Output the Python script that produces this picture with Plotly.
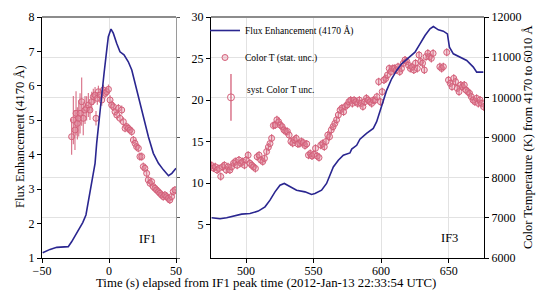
import plotly.graph_objects as go

# ---------------- data ----------------
# IF1 flux enhancement (4170 A)
time_if1_flux = [-49.5, -44, -39, -30.4, -27.9, -24, -19.6, -17.2, -14.7, -12.2,
                 -10.4, -9.2, -7.2, -5.5, -3.7, -1.7, -0.5, 1.5, 3.2, 5.7,
                 8.2, 11.2, 14.4, 17, 19.4, 22.6, 25.6, 29.4, 33.1, 36.9,
                 40.6, 44.4, 46.9, 50]
flux_if1 = [1.15, 1.25, 1.31, 1.33, 1.47, 1.72, 2.03, 2.25, 2.78, 3.36,
            3.75, 4.33, 5.0, 5.59, 6.36, 7.04, 7.43, 7.65, 7.53, 7.24,
            6.99, 6.90, 6.70, 6.46, 6.07, 5.59, 5.10, 4.52, 4.04, 3.75,
            3.56, 3.39, 3.46, 3.61]

# IF1 color temperature (K)
time_if1_T = [-27.9, -26.6, -25.4, -24.6, -23.6, -22.6, -21.6, -20.4, -19.2, -17.9,
              -16.7, -15.4, -14.2, -12.9, -11.7, -10.4, -9.7, -8.7, -7.9, -6.7,
              -5.4, -4.2, -2.9, -1.7, -0.4, 0.8, 2.0, 3.3, 4.5, 5.8,
              7.0, 8.2, 9.5, 10.7, 12.0, 13.2, 14.4, 15.7, 16.9, 18.2,
              19.4, 20.6, 21.9, 23.1, 24.4, 25.6, 26.8, 28.1, 29.3, 30.6,
              31.8, 33.0, 34.3, 35.5, 36.8, 38.0, 39.2, 40.5, 41.7, 43.0,
              44.2, 45.4, 46.7, 47.9, 49.2]
temp_if1 = [9020, 9435, 9187, 9602, 9353, 9478, 9602, 9891, 9478, 9684,
            9726, 9809, 9684, 9891, 10016, 10057, 9478, 9974, 10140, 10057,
            9933, 10182, 10099, 10140, 10199, 9933, 9809, 9767, 9643, 9560,
            9726, 9478, 9684, 9394, 9229, 9270, 9229, 9187, 9146, 8938,
            8855, 8772, 8731, 8524, 8524, 8275, 8233, 8109, 7943, 7860,
            7901, 7777, 7735, 7694, 7652, 7611, 7569, 7528, 7569, 7528,
            7486, 7445, 7528, 7652, 7694]
temp_if1_err = [450, 600, 500, 550, 400, 450, 500, 600, 420, 350,
                300, 300, 250, 250, 200, 200, 180, 160, 150, 150,
                140, 130, 130, 120, 120, 120, 110, 110, 110, 110,
                110, 110, 110, 110, 100, 100, 100, 100, 100, 100,
                100, 100, 100, 100, 100, 100, 100, 100, 100, 100,
                100, 100, 100, 100, 100, 100, 100, 100, 100, 100,
                100, 100, 100, 100, 100]

# IF3 flux enhancement
time_if3_flux = [474.5, 480.7, 485.6, 491.8, 496.7, 502.9, 509, 514, 517.7, 521.4,
                 525.1, 528.3, 532.5, 537.4, 543.6, 548.5, 551, 555.9, 559.6, 562.1,
                 564.6, 568.3, 572, 576.9, 578.2, 581.9, 584.3, 589.2, 594.2, 596.7,
                 599.2, 600.4, 604.1, 607.8, 611.5, 615.2, 620.1, 625.1, 628.8, 632.5,
                 636.2, 638.7, 642.4, 646.1, 649.1, 650.6, 653.5, 658.5, 663.4, 668.3,
                 670.8, 675.7]
flux_if3 = [5.84, 5.72, 5.84, 6.04, 6.28, 6.36, 6.64, 7.16, 7.96, 8.96,
            9.76, 9.97, 9.56, 9.16, 8.96, 8.64, 8.76, 9.16, 9.97, 10.96,
            11.96, 12.76, 13.36, 13.64, 14.1, 14.56, 15.3, 16.0, 16.6, 17.4,
            18.6, 19.2, 21.17, 22.57, 23.57, 24.37, 25.09, 25.77, 26.77, 27.77,
            28.57, 28.85, 28.45, 28.3, 27.97, 26.37, 25.57, 25.17, 24.77, 23.97,
            23.37, 23.37]

# IF3 color temperature (K)
time_if3_T = [474.5, 475.8, 477.2, 478.5, 479.9, 481.2, 482.6, 483.9, 485.3, 486.6,
              488.0, 489.3, 490.7, 492.0, 493.4, 494.7, 496.1, 497.4, 498.8, 500.1,
              501.5, 502.8, 504.2, 505.5, 506.9, 508.2, 509.6, 510.9, 512.3, 513.6,
              515.2, 516.5, 517.7, 518.9, 520.2, 521.5, 522.8, 524.1, 525.4, 526.7,
              528.0, 529.3, 530.6, 531.9, 533.2, 534.5, 535.8, 537.1, 538.4, 539.7,
              541.0, 542.3, 543.6, 544.9, 546.2, 547.5, 548.8, 550.1, 551.4, 552.7,
              554.0, 555.3, 556.6, 557.9, 559.2, 560.5, 561.8, 563.1, 564.4, 565.7,
              567.0, 568.3, 569.6, 570.9, 572.2, 573.5, 574.8, 576.1, 577.4, 578.7,
              580.0, 581.3, 582.6, 583.9, 585.2, 586.5, 587.8, 589.1, 590.4, 591.7,
              593.0, 594.3, 595.6, 596.9, 598.2, 599.5, 600.8, 602.1, 603.4, 604.7,
              606.0, 607.3, 608.6, 609.9, 611.2, 612.5, 613.8, 615.1, 616.4, 617.7,
              619.0, 620.3, 621.6, 622.9, 624.2, 625.5, 626.8, 628.1, 629.4, 630.7,
              632.0, 633.3, 634.6, 635.9, 637.2, 638.5, 643.5, 644.8, 646.1, 648.6,
              649.9, 651.2, 652.5, 653.8, 655.1, 656.4, 657.7, 659.0, 660.3, 661.6,
              662.9, 664.2, 665.5, 666.8, 668.1, 669.4, 670.7, 672.0, 673.3, 674.6,
              675.9]
temp_if3 = [8300, 8240, 8270, 8190, 8230, 8030, 8270, 8310, 8190, 8270,
            8190, 8270, 8360, 8400, 8310, 8440, 8360, 8400, 8310, 8440,
            8560, 8360, 8310, 8270, 8230, 8520, 8560, 8440, 8400, 8480,
            8650, 8760, 8850, 8980, 9300, 9310, 9440, 9390, 9310, 9270,
            9190, 9150, 9150, 9060, 8900, 8860, 8940, 8980, 8840, 8850,
            8900, 8870, 8800, 8840, 8560, 8600, 8540, 8580, 8730, 8540,
            8500, 8810, 8850, 8770, 8900, 9060, 9020, 9190, 9270, 9350,
            9440, 9560, 9680, 9730, 9640, 9770, 9810, 9890, 9930, 9850,
            9930, 9890, 9850, 9930, 9850, 9770, 9890, 9975, 9930, 9890,
            9850, 9930, 9930, 10016, 10390, 9890, 10140, 10430, 10470, 10555,
            10720, 10640, 10720, 10720, 10680, 10760, 10640, 10720, 10846, 10930,
            10890, 10800, 10720, 10760, 10680, 10850, 10720, 11053, 10890, 10850,
            10680, 11012, 11095, 11012, 10970, 11095, 10760, 10720, 10763, 11120,
            10430, 10348, 10265, 10472, 10390, 10224, 10140, 10307, 10265, 10307,
            10180, 10140, 10100, 10016, 9933, 9890, 9975, 9850, 9933, 9850,
            9767]
temp_if3_err = 100

# systematic uncertainty example point
syst_time = [488.8]
syst_temp = [10000]
syst_err = [580]

x_ticks_if1 = [-50, 0, 50]
x_ticks_if3 = [500, 550, 600, 650]
flux_ticks_if1 = [1, 2, 3, 4, 5, 6, 7, 8]
flux_ticks_if3 = [5, 10, 15, 20, 25, 30]
temp_ticks = [6000, 7000, 8000, 9000, 10000, 11000, 12000]

# ---------------- style / geometry ----------------
# the page body has an 8 px margin, so the figure is placed at (8, 8)
OFF = 8
W, H = 542, 292
FONT = "Liberation Serif"
LINE_C = "#2a2690"
PINK = "#d4607a"
PINK_FILL = "rgba(225,140,160,0.35)"
GRID = "#e2e2e2"


def px(x):
    return (x - OFF) / W


def py(y):
    return 1 - (y - OFF) / H


# panel edges in window pixels
L0, L1 = 42, 176
R0, R1 = 211, 484
TOP, BOT = 17, 258
dom_y = [py(BOT), py(TOP)]
dom_l = [px(L0), px(L1)]
dom_r = [px(R0), px(R1)]

fig = go.Figure()

# IF1 color temperature (base axis x/y)
fig.add_trace(go.Scatter(
    x=time_if1_T, y=temp_if1, mode="markers", xaxis="x", yaxis="y",
    marker=dict(symbol="circle", size=6, color=PINK_FILL, line=dict(color=PINK, width=1)),
    error_y=dict(type="data", array=temp_if1_err, color="rgba(212,96,122,0.85)", thickness=1.2, width=0),
    showlegend=False))
# IF1 flux
fig.add_trace(go.Scatter(
    x=time_if1_flux, y=flux_if1, mode="lines", xaxis="x", yaxis="y2",
    line=dict(color=LINE_C, width=1.6), showlegend=False))

# IF3 color temperature
fig.add_trace(go.Scatter(
    x=time_if3_T, y=temp_if3, mode="markers", xaxis="x2", yaxis="y3",
    name="Color T (stat. unc.)", legendgroup="b", legendrank=2,
    marker=dict(symbol="circle", size=6, color=PINK_FILL, line=dict(color=PINK, width=1)),
    error_y=dict(type="data", array=[temp_if3_err] * len(temp_if3), color=PINK, thickness=1.2, width=0)))
# syst. uncertainty point
fig.add_trace(go.Scatter(
    x=syst_time, y=syst_temp, mode="markers", xaxis="x2", yaxis="y3",
    marker=dict(symbol="circle", size=7, color="rgba(255,255,255,0)", line=dict(color=PINK, width=1)),
    error_y=dict(type="data", array=syst_err, color=PINK, thickness=1.3, width=0),
    showlegend=False))
# IF3 flux
fig.add_trace(go.Scatter(
    x=time_if3_flux, y=flux_if3, mode="lines", xaxis="x2", yaxis="y4",
    name="Flux Enhancement (4170 Å)", legendgroup="a", legendrank=1,
    line=dict(color=LINE_C, width=1.6)))

tickfont = dict(family=FONT, size=12, color="black")
common_x = dict(showline=True, linecolor="black", linewidth=1.3, ticks="outside",
                ticklen=4, tickcolor="black", showgrid=True, gridcolor=GRID,
                gridwidth=1, zeroline=False, tickfont=tickfont, automargin=False,
                ticklabelstandoff=-3)

fig.update_layout(
    width=W, height=H,
    margin=dict(l=0, r=0, t=0, b=0),
    paper_bgcolor="white", plot_bgcolor="white",
    font=dict(family=FONT, size=12, color="black"),
    xaxis=dict(domain=dom_l, range=[-50, 50], tickvals=x_ticks_if1, anchor="y", **common_x),
    yaxis=dict(domain=dom_y, range=[6000, 12000], tickvals=temp_ticks, anchor="x",
               side="right", showticklabels=False, showline=True, linecolor="#9a9a9a",
               linewidth=1, ticks="outside", ticklen=3, tickcolor="#555555",
               showgrid=True, gridcolor=GRID, zeroline=False, automargin=False),
    yaxis2=dict(range=[1, 8], tickvals=flux_ticks_if1, overlaying="y", anchor="x",
                side="left", showline=True, linecolor="black", linewidth=1.3,
                ticks="outside", ticklen=4, tickcolor="black", showgrid=False,
                zeroline=False, tickfont=tickfont, automargin=False),
    xaxis2=dict(domain=dom_r, range=[474, 676.2], tickvals=x_ticks_if3, anchor="y3", **common_x),
    yaxis3=dict(domain=dom_y, range=[6000, 12000], tickvals=temp_ticks, tickformat="d",
                anchor="x2", side="right", showline=True, linecolor="black", linewidth=1.3,
                ticks="outside", ticklen=4, tickcolor="black", showgrid=True,
                gridcolor=GRID, zeroline=False, tickfont=tickfont, automargin=False),
    yaxis4=dict(range=[1, 30], tickvals=flux_ticks_if3, overlaying="y3", anchor="x2",
                side="left", showline=True, linecolor="black", linewidth=1.3,
                ticks="outside", ticklen=4, tickcolor="black", showgrid=False,
                zeroline=False, tickfont=tickfont, automargin=False),
    legend=dict(x=px(R0 - 6), y=py(16), xanchor="left", yanchor="top",
                bgcolor="rgba(255,255,255,0)", borderwidth=0,
                font=dict(family=FONT, size=9.5, color="black"),
                traceorder="grouped", tracegroupgap=8),
)

# top borders (gray)
for d in (dom_l, dom_r):
    fig.add_shape(type="line", xref="paper", yref="paper", x0=d[0], x1=d[1],
                  y0=dom_y[1], y1=dom_y[1], line=dict(color="#8c8c8c", width=2))

ann = [
    dict(text="Time (s) elapsed from IF1 peak time (2012-Jan-13 22:33:54 UTC)",
         xref="paper", yref="paper", x=px(266), y=py(283), xanchor="center",
         yanchor="middle", showarrow=False, font=dict(family=FONT, size=12.8)),
    dict(text="Flux Enhancement (4170 Å)", xref="paper", yref="paper",
         x=px(20), y=py(137), textangle=-90, xanchor="center", yanchor="middle",
         showarrow=False, font=dict(family=FONT, size=12.5)),
    dict(text="Color Temperature (K) from 4170 to 6010 Å", xref="paper", yref="paper",
         x=px(528), y=py(137), textangle=-90, xanchor="center", yanchor="middle",
         showarrow=False, font=dict(family=FONT, size=12.5)),
    dict(text="IF1", xref="x domain", yref="y domain", x=0.79, y=0.08,
         xanchor="center", yanchor="middle", showarrow=False, font=dict(family=FONT, size=12.5)),
    dict(text="IF3", xref="x2 domain", yref="y3 domain", x=0.875, y=0.083,
         xanchor="center", yanchor="middle", showarrow=False, font=dict(family=FONT, size=12.5)),
    dict(text="syst. Color T unc.", xref="x2 domain", yref="y3 domain", x=0.124, y=0.697,
         xanchor="left", yanchor="middle", showarrow=False, font=dict(family=FONT, size=9.5)),
]
fig.update_layout(annotations=ann)

fig.write_html("out.html")
